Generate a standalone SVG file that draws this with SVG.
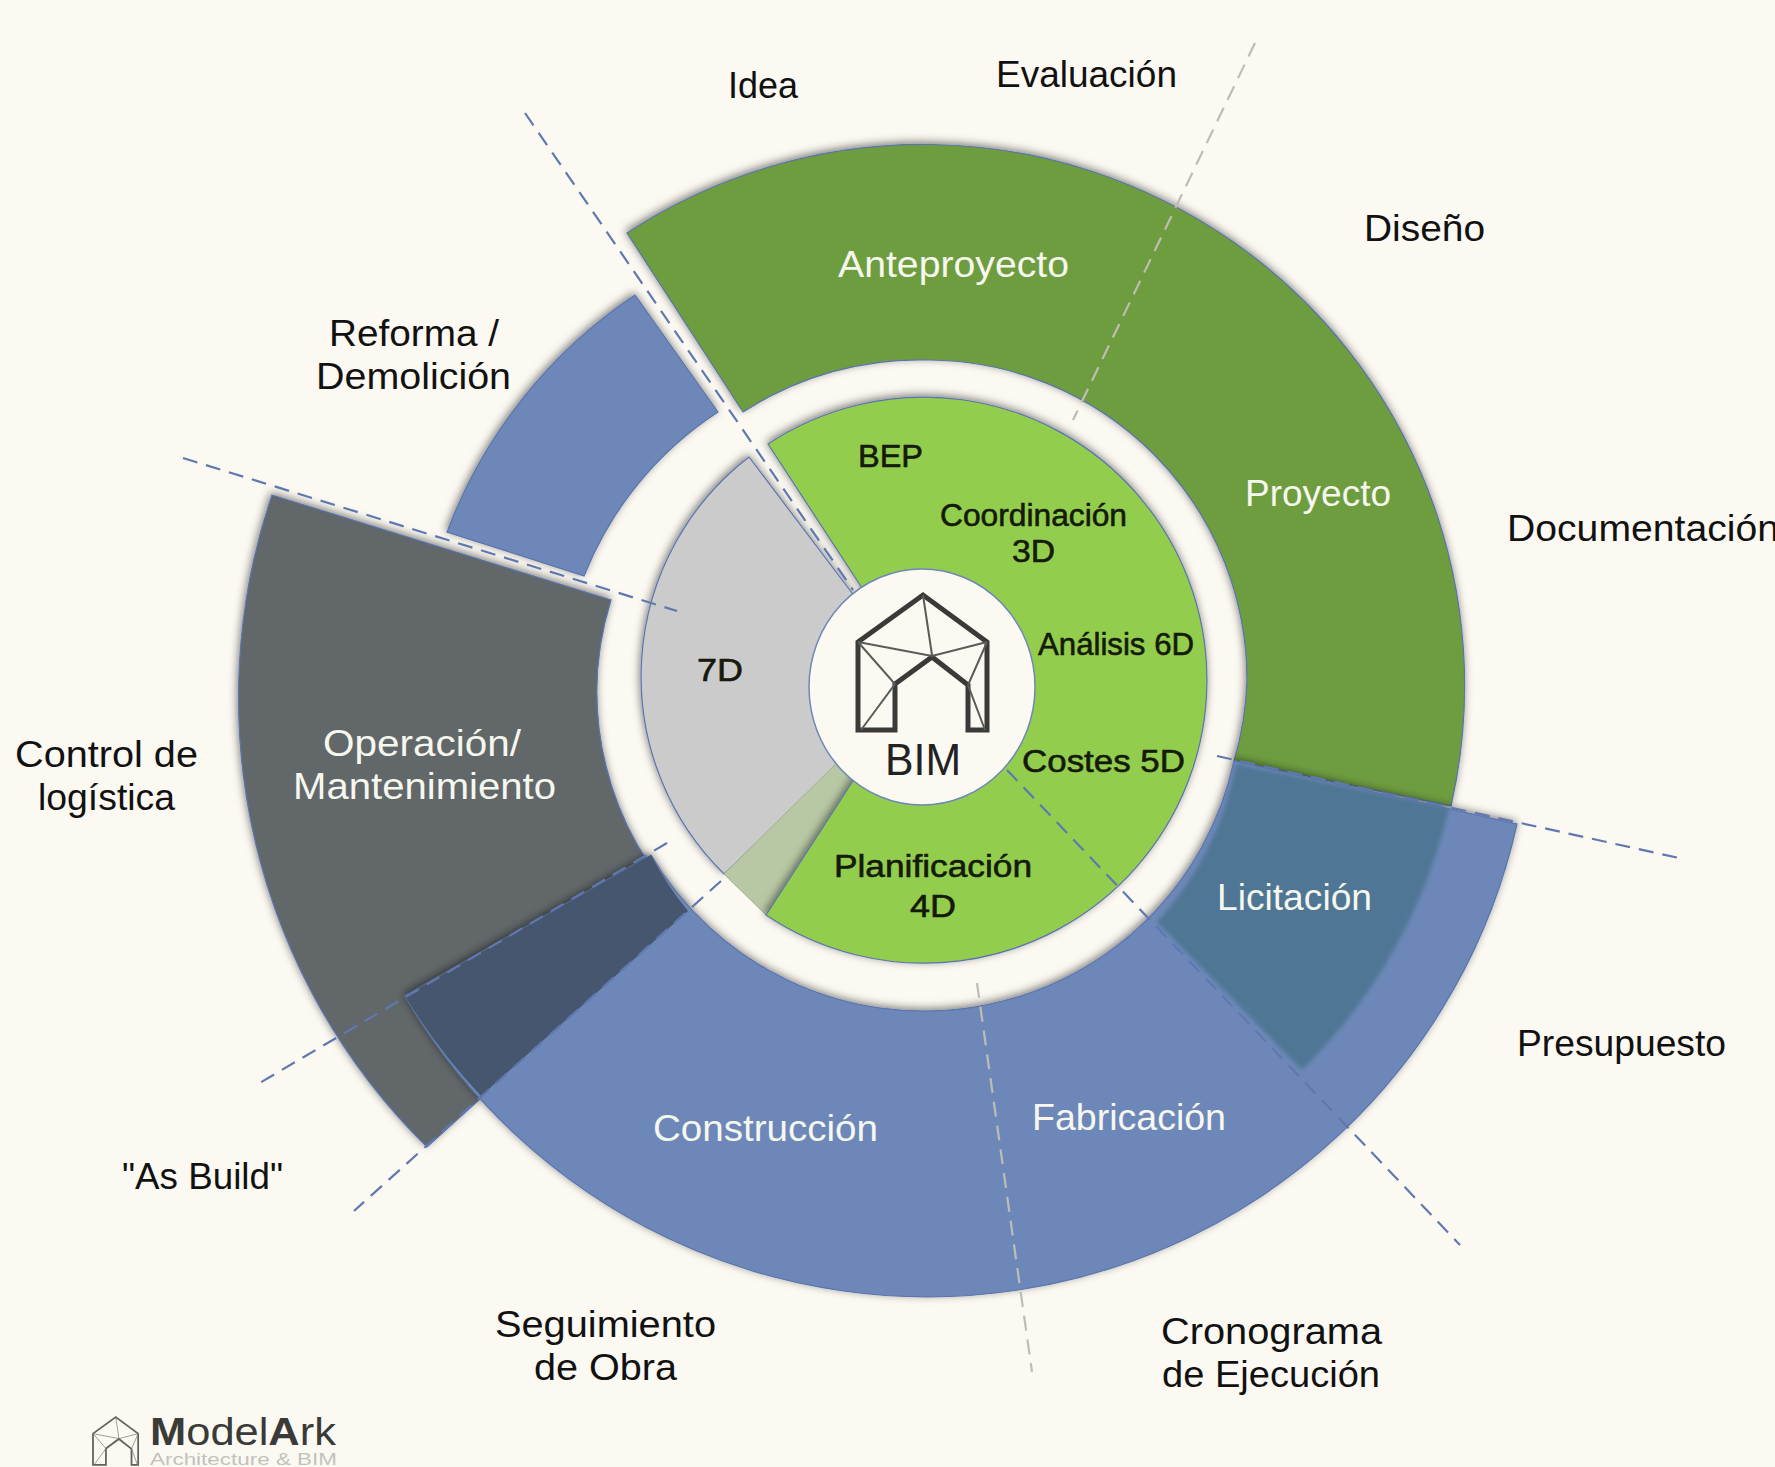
<svg xmlns="http://www.w3.org/2000/svg" xmlns:xlink="http://www.w3.org/1999/xlink" width="1775" height="1467" viewBox="0 0 1775 1467">
<style>
.t{font-family:"Liberation Sans",Arial,sans-serif;font-size:36px;fill:#111}
.w{fill:#f6f7ee}
.s{font-size:31px;fill:#151a0c;stroke:#151a0c;stroke-width:0.6}
.seg{stroke:#5a74ad;stroke-width:1.2}
.sh{filter:url(#shadow)}
.dash{fill:none;stroke:#5f79b0;stroke-width:2.2;stroke-dasharray:15 9}
.dg{stroke:#bdbdb6}
.h1{fill:none;stroke:#3a3a38;stroke-width:5;stroke-linejoin:miter}
.h2{fill:none;stroke:#5a5a58;stroke-width:2}
</style>
<defs>
<filter id="shadow" x="-10%" y="-10%" width="120%" height="120%"><feDropShadow dx="-1" dy="-2" stdDeviation="4" flood-color="#000" flood-opacity="0.5"/></filter>
<filter id="soft" x="-5%" y="-5%" width="110%" height="110%"><feGaussianBlur stdDeviation="2"/></filter>
<g id="house">
<path class="h1" d="M858,730V642L923,595L987,642V730H968V685L932,657L895,684V730Z"/>
<path class="h2" d="M923,595L932,655M858,642L932,656L987,642M858,642L895,684L861,730M987,642L968,685L985,730"/>
</g>
</defs>
<rect width="1775" height="1467" fill="#fcf9f2"/>
<g id="operacion"><path class="seg sh" fill="#62676b" d="M272,495L611,600A309,309 0 0 0 688,911L427,1147A630,630 0 0 1 272,495Z"/></g>
<g id="reforma"><path class="seg sh" fill="#6d88b8" d="M635,295L718,412A350,350 0 0 0 584,576L447,532A495,495 0 0 1 635,295Z"/></g>
<g id="anteproyecto-proyecto"><path class="seg sh" fill="#6e9d40" d="M627,233A541,541 0 0 1 1451,806L1234,761A320,320 0 0 0 1247,680A320,320 0 0 0 930,360A324,324 0 0 0 743,412Z"/></g>
<g id="construccion-fabricacion"><path class="seg sh" fill="#6d88b8" d="M651,855L405,996A604,604 0 0 0 1517,824L1234,761A317,317 0 0 1 651,855Z"/></g>
<g id="solape-licitacion"><path fill="#4f7694" filter="url(#soft)" d="M1236,764L1449,808A541,541 0 0 1 1302,1070L1157,922A317,317 0 0 0 1236,764Z"/></g>
<g id="solape-seguimiento"><path fill="#46566e" d="M651,855L405,996A604,604 0 0 0 481,1096L688,911A317,317 0 0 1 651,855Z"/></g>
<g id="septima"><path class="seg sh" fill="#cbcbcb" d="M749,457L852,593L924,686L724,874A277,277 0 0 1 749,457Z"/></g>
<g id="palido"><path fill="#b8c8a4" stroke="#9fb08e" d="M724,874L766,915L860,770L845,755Z"/></g>
<g id="dimensiones"><path class="seg sh" fill="#92cd4d" d="M768,444A283,283 0 1 1 766,915L860,770L924,686L860,585Z"/></g>
<g id="nucleo">
<ellipse cx="922" cy="687" rx="113" ry="118" fill="#fcf9f2" stroke="#6d88b8" stroke-width="1.5"/>
<use xlink:href="#house" href="#house"/>
<text class="t" style="font-size:44px;fill:#222" x="885" y="775" textLength="76" lengthAdjust="spacingAndGlyphs">BIM</text>
</g>
<g id="connectors">
<path class="dash" d="M525,113L853,590"/>
<path class="dash" d="M183,458L677,611"/>
<path class="dash dg" d="M1255,43L1073,420"/>
<path class="dash" d="M1217,756L1679,858"/>
<path class="dash" d="M1007,770L1460,1245"/>
<path class="dash dg" d="M977,983L1032,1372"/>
<path class="dash" d="M667,843L258,1084"/>
<path class="dash" d="M721,881L354,1211"/>
</g>
<g id="etiquetas">
<text class="t" x="728" y="98" textLength="70" lengthAdjust="spacingAndGlyphs">Idea</text>
<text class="t" x="996" y="87" textLength="181" lengthAdjust="spacingAndGlyphs">Evaluación</text>
<text class="t" x="1364" y="241" textLength="121" lengthAdjust="spacingAndGlyphs">Diseño</text>
<text class="t" x="1507" y="541" textLength="272" lengthAdjust="spacingAndGlyphs">Documentación</text>
<text class="t" x="329" y="346" textLength="170" lengthAdjust="spacingAndGlyphs">Reforma /</text>
<text class="t" x="316" y="389" textLength="195" lengthAdjust="spacingAndGlyphs">Demolición</text>
<text class="t" x="15" y="767" textLength="183" lengthAdjust="spacingAndGlyphs">Control de</text>
<text class="t" x="38" y="810" textLength="137" lengthAdjust="spacingAndGlyphs">logística</text>
<text class="t" x="122" y="1189" textLength="161" lengthAdjust="spacingAndGlyphs">"As Build"</text>
<text class="t" x="495" y="1337" textLength="221" lengthAdjust="spacingAndGlyphs">Seguimiento</text>
<text class="t" x="534" y="1380" textLength="143" lengthAdjust="spacingAndGlyphs">de Obra</text>
<text class="t" x="1161" y="1344" textLength="221" lengthAdjust="spacingAndGlyphs">Cronograma</text>
<text class="t" x="1162" y="1387" textLength="218" lengthAdjust="spacingAndGlyphs">de Ejecución</text>
<text class="t" x="1517" y="1056" textLength="209" lengthAdjust="spacingAndGlyphs">Presupuesto</text>
<text class="t w" x="838" y="277" textLength="231" lengthAdjust="spacingAndGlyphs">Anteproyecto</text>
<text class="t w" x="1245" y="506" textLength="146" lengthAdjust="spacingAndGlyphs">Proyecto</text>
<text class="t w" x="1217" y="910" textLength="155" lengthAdjust="spacingAndGlyphs">Licitación</text>
<text class="t w" x="1032" y="1130" textLength="194" lengthAdjust="spacingAndGlyphs">Fabricación</text>
<text class="t w" x="653" y="1141" textLength="225" lengthAdjust="spacingAndGlyphs">Construcción</text>
<text class="t w" x="323" y="756" textLength="198" lengthAdjust="spacingAndGlyphs">Operación/</text>
<text class="t w" x="293" y="799" textLength="263" lengthAdjust="spacingAndGlyphs">Mantenimiento</text>
<text class="t s" x="858" y="467" textLength="65" lengthAdjust="spacingAndGlyphs">BEP</text>
<text class="t s" x="940" y="526" textLength="187" lengthAdjust="spacingAndGlyphs">Coordinación</text>
<text class="t s" x="1012" y="562" textLength="43" lengthAdjust="spacingAndGlyphs">3D</text>
<text class="t s" x="1038" y="655" textLength="156" lengthAdjust="spacingAndGlyphs">Análisis 6D</text>
<text class="t s" x="1022" y="772" textLength="163" lengthAdjust="spacingAndGlyphs">Costes 5D</text>
<text class="t s" x="834" y="877" textLength="198" lengthAdjust="spacingAndGlyphs">Planificación</text>
<text class="t s" x="910" y="917" textLength="46" lengthAdjust="spacingAndGlyphs">4D</text>
<text class="t s" x="697" y="681" textLength="46" lengthAdjust="spacingAndGlyphs">7D</text>
</g>
<g id="logo">
<use xlink:href="#house" href="#house" transform="translate(93,1417) scale(0.35,0.354) translate(-858,-595)" opacity="0.8"/>
<text x="150" y="1445" style="font-family:'Liberation Sans',Arial,sans-serif;font-size:38px;fill:#3a3a38" textLength="186" lengthAdjust="spacingAndGlyphs"><tspan font-weight="bold">M</tspan>odel<tspan font-weight="bold">A</tspan>rk</text>
<text x="150" y="1465" style="font-family:'Liberation Sans',Arial,sans-serif;font-size:17px;fill:#c2c2bc" textLength="187" lengthAdjust="spacingAndGlyphs">Architecture &amp; BIM</text>
</g>
</svg>
